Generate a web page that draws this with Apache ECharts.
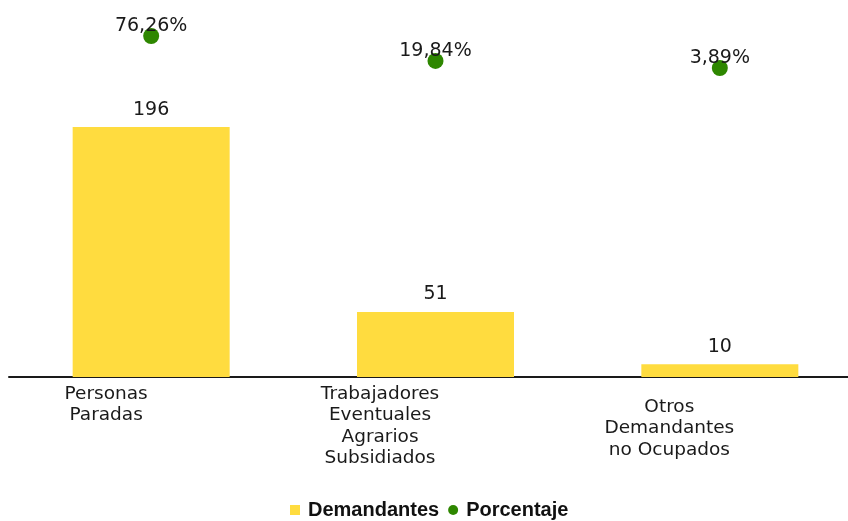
<!DOCTYPE html>
<html>
<head>
<meta charset="utf-8">
<script src="https://cdn.jsdelivr.net/npm/echarts@6/dist/echarts.min.js"></script>
<style>html,body{margin:0;padding:0;background:#fff;overflow:hidden}#c{width:864px;height:521px}</style>
</head>
<body>
<div id="c"></div>
<script>
const categories = ['Personas\nParadas', 'Trabajadores\nEventuales\nAgrarios\nSubsidiados', 'Otros\nDemandantes\nno Ocupados'];
const demandantes = [196, 51, 10];
const porcentaje = [76.26, 19.84, 3.89];
const seriesNames = ['Demandantes', 'Porcentaje'];

const labelShift = [
  { padding: [0, 90, 0, 0] },
  { padding: [0, 111, 0, 0] },
  { padding: [13, 101, 0, 0] }
];

const chart = echarts.init(document.getElementById('c'), null, { renderer: 'canvas' });
chart.setOption({
  animation: false,
  backgroundColor: '#ffffff',
  textStyle: { fontFamily: 'DejaVu Sans' },
  grid: { left: 9, top: 20, width: 853, height: 357, containLabel: false },
  xAxis: {
    type: 'category',
    data: categories.map((c, i) => ({ value: c, textStyle: labelShift[i] })),
    axisLine: { lineStyle: { color: '#1a1a1a', width: 2 } },
    axisTick: { show: false },
    axisLabel: { color: '#1a1a1a', fontSize: 18.5, lineHeight: 21.5, margin: 6, interval: 0, fontFamily: 'DejaVu Sans' },
    splitLine: { show: false }
  },
  yAxis: [
    { type: 'value', min: 0, max: 280, show: false, splitLine: { show: false } },
    { type: 'value', min: -695, max: 112.4, show: false, splitLine: { show: false } }
  ],
  legend: {
    top: 495,
    left: 285,
    itemWidth: 10,
    itemHeight: 10,
    itemGap: 9,
    textStyle: { fontFamily: 'Liberation Sans', fontWeight: 'bold', fontSize: 20, color: '#111', padding: [0, 0, 0, 3] },
    data: [
      { name: seriesNames[0], icon: 'rect' },
      { name: seriesNames[1], icon: 'circle' }
    ]
  },
  series: [
    {
      name: seriesNames[0],
      type: 'bar',
      data: demandantes,
      yAxisIndex: 0,
      barWidth: 157,
      itemStyle: { color: '#FFDC3F' },
      label: { show: true, position: 'top', distance: 8, color: '#1a1a1a', fontSize: 19, fontFamily: 'DejaVu Sans' }
    },
    {
      name: seriesNames[1],
      type: 'scatter',
      data: porcentaje,
      yAxisIndex: 1,
      symbol: 'circle',
      symbolSize: 16,
      itemStyle: { color: '#2E8700', opacity: 1 },
      label: {
        show: true, position: 'top', distance: -8, color: '#1a1a1a', fontSize: 19, fontFamily: 'DejaVu Sans',
        formatter: p => p.value.toFixed(2).replace('.', ',') + '%'
      },
      z: 3
    }
  ]
});
</script>
</body>
</html>
